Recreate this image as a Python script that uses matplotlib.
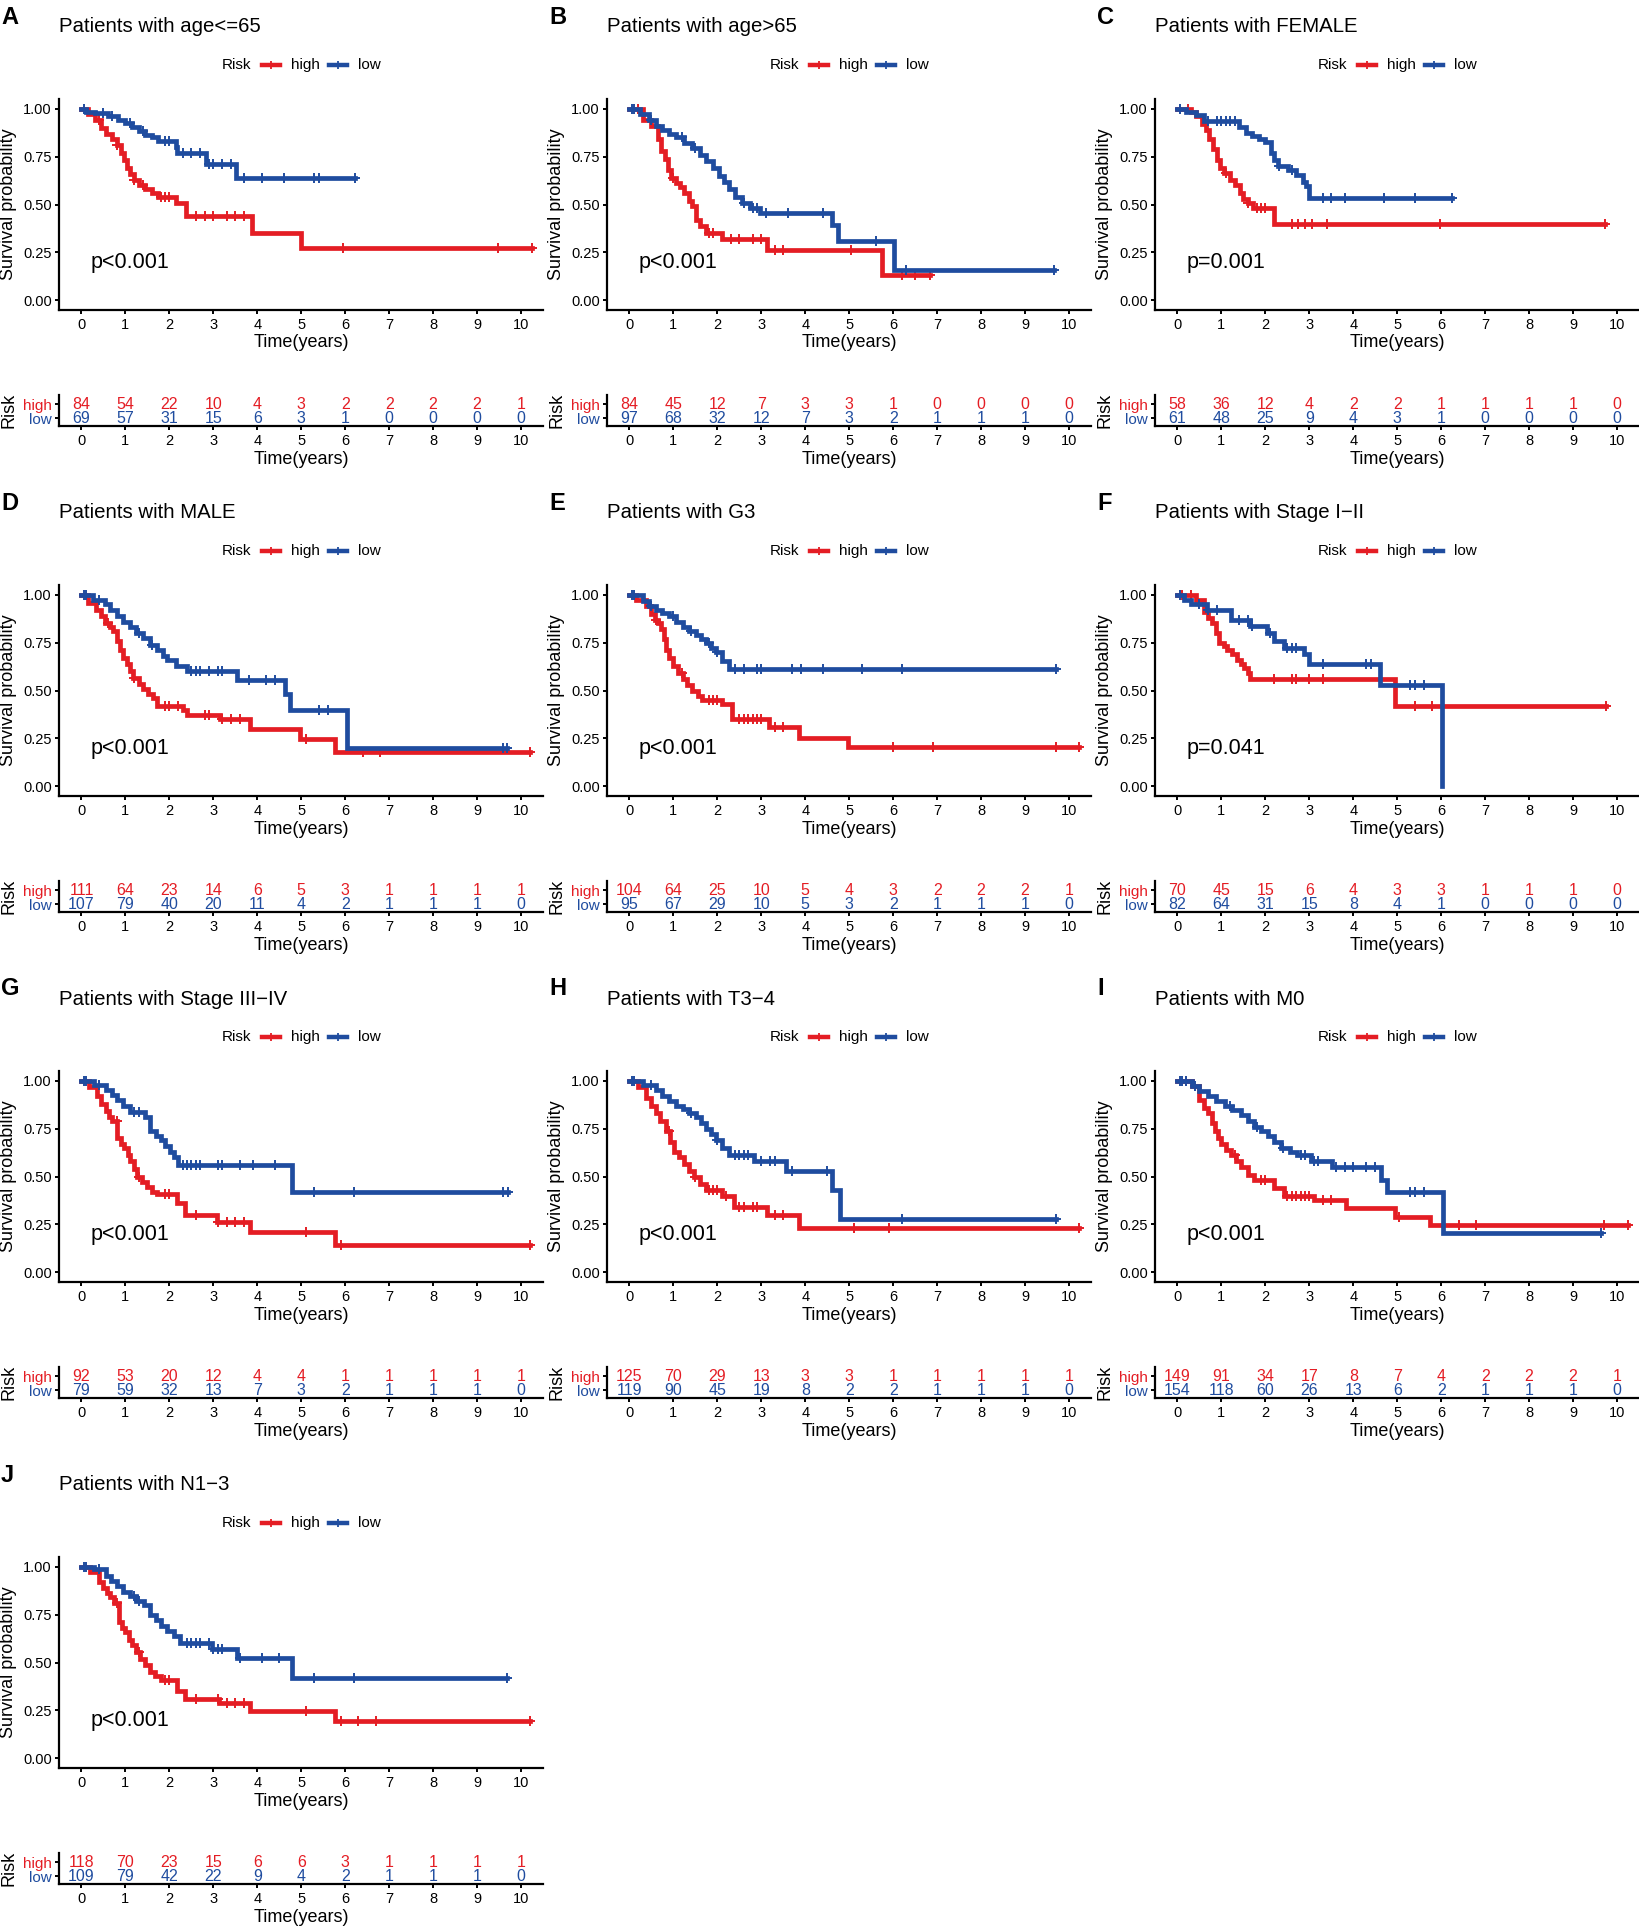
import numpy as np
import matplotlib
matplotlib.use("Agg")
import matplotlib.pyplot as plt
from matplotlib.lines import Line2D

plt.rcParams['font.family'] = ['Liberation Sans', 'DejaVu Sans']

RED = '#E41D24'
BLUE = '#1F4C9F'

LETTERS = ['A', 'B', 'C', 'D', 'E', 'F', 'G', 'H', 'I', 'J']
TITLES = ['Patients with age<=65', 'Patients with age>65', 'Patients with FEMALE',
          'Patients with MALE', 'Patients with G3', 'Patients with Stage I\u2212II',
          'Patients with Stage III\u2212IV', 'Patients with T3\u22124', 'Patients with M0',
          'Patients with N1\u22123']
PVALS = ['p<0.001', 'p<0.001', 'p=0.001', 'p<0.001', 'p<0.001', 'p=0.041',
         'p<0.001', 'p<0.001', 'p<0.001', 'p<0.001']
RISK_TIMES = list(range(11))

# ---- A: age<=65
A_HIGH_T = [0.15, 0.3, 0.45, 0.55, 0.7, 0.8, 0.9, 0.97, 1.03, 1.1, 1.2, 1.3, 1.45, 1.6, 1.75, 2.15, 2.38, 3.88, 5.0]
A_HIGH_S = [0.97, 0.94, 0.90, 0.87, 0.84, 0.81, 0.77, 0.73, 0.69, 0.66, 0.63, 0.60, 0.58, 0.56, 0.54, 0.51, 0.44, 0.353, 0.274]
A_HIGH_END = 10.24
A_HIGH_C = [0.4, 0.8, 1.2, 1.4, 1.8, 1.9, 2.0, 2.6, 2.8, 3.0, 3.3, 3.5, 3.7, 5.95, 9.47, 10.24]
A_LOW_T = [0.1, 0.3, 0.6, 0.84, 1.0, 1.15, 1.3, 1.45, 1.6, 1.73, 2.14, 2.18, 2.83, 3.52]
A_LOW_S = [0.985, 0.975, 0.96, 0.94, 0.925, 0.905, 0.885, 0.865, 0.85, 0.83, 0.80, 0.77, 0.71, 0.64]
A_LOW_END = 6.23
A_LOW_C = [0.05, 0.5, 0.7, 1.1, 1.4, 1.9, 2.0, 2.3, 2.5, 2.7, 2.9, 3.0, 3.2, 3.4, 3.7, 4.1, 4.6, 5.3, 5.4, 6.23]
A_RISK_HIGH = [84, 54, 22, 10, 4, 3, 2, 2, 2, 2, 1]
A_RISK_LOW = [69, 57, 31, 15, 6, 3, 1, 0, 0, 0, 0]

# ---- B: age>65
B_HIGH_T = [0.3, 0.49, 0.64, 0.72, 0.8, 0.87, 0.95, 1.06, 1.15, 1.25, 1.35, 1.43, 1.51, 1.6, 1.74, 2.11, 3.13, 5.74]
B_HIGH_S = [0.94, 0.91, 0.84, 0.78, 0.74, 0.68, 0.64, 0.61, 0.59, 0.56, 0.52, 0.49, 0.42, 0.39, 0.35, 0.32, 0.265, 0.13]
B_HIGH_END = 6.83
B_HIGH_C = [0.2, 1.0, 1.8, 1.9, 2.3, 2.5, 2.8, 3.0, 3.3, 3.5, 5.05, 6.2, 6.5, 6.83]
B_LOW_T = [0.23, 0.45, 0.6, 0.75, 0.9, 1.06, 1.25, 1.43, 1.6, 1.74, 1.9, 2.04, 2.15, 2.26, 2.4, 2.57, 2.75, 2.98, 4.6, 4.75, 6.02]
B_LOW_S = [0.97, 0.94, 0.91, 0.89, 0.87, 0.85, 0.82, 0.795, 0.76, 0.725, 0.69, 0.65, 0.615, 0.58, 0.54, 0.51, 0.48, 0.455, 0.395, 0.31, 0.157]
B_LOW_END = 9.66
B_LOW_C = [0.05, 0.1, 0.5, 1.2, 1.5, 2.6, 2.8, 2.9, 3.1, 3.6, 4.4, 5.6, 6.3, 9.66]
B_RISK_HIGH = [84, 45, 12, 7, 3, 3, 1, 0, 0, 0, 0]
B_RISK_LOW = [97, 68, 32, 12, 7, 3, 2, 1, 1, 1, 0]

# ---- C: female
C_HIGH_T = [0.3, 0.42, 0.55, 0.65, 0.72, 0.8, 0.9, 0.97, 1.05, 1.2, 1.32, 1.42, 1.5, 1.6, 1.72, 2.2]
C_HIGH_S = [0.985, 0.96, 0.92, 0.89, 0.84, 0.79, 0.73, 0.69, 0.665, 0.63, 0.60, 0.56, 0.53, 0.51, 0.48, 0.40]
C_HIGH_END = 9.73
C_HIGH_C = [0.25, 1.1, 1.6, 1.8, 1.9, 2.0, 2.6, 2.75, 2.9, 3.05, 3.4, 5.97, 9.73]
C_LOW_T = [0.2, 0.42, 0.6, 1.4, 1.55, 1.7, 1.85, 2.0, 2.12, 2.2, 2.28, 2.52, 2.69, 2.85, 2.93, 3.0]
C_LOW_S = [0.985, 0.965, 0.935, 0.905, 0.875, 0.855, 0.84, 0.825, 0.77, 0.73, 0.70, 0.68, 0.655, 0.62, 0.595, 0.535]
C_LOW_END = 6.25
C_LOW_C = [0.05, 0.7, 0.9, 1.0, 1.1, 1.2, 1.3, 2.3, 2.6, 3.3, 3.5, 3.8, 4.7, 5.4, 6.25]
C_RISK_HIGH = [58, 36, 12, 4, 2, 2, 1, 1, 1, 1, 0]
C_RISK_LOW = [61, 48, 25, 9, 4, 3, 1, 0, 0, 0, 0]

# ---- D: male
D_HIGH_T = [0.15, 0.34, 0.45, 0.53, 0.65, 0.72, 0.8, 0.87, 0.95, 1.03, 1.1, 1.18, 1.3, 1.41, 1.52, 1.63, 1.71, 2.32, 2.4, 3.15, 3.83, 4.97, 5.77]
D_HIGH_S = [0.957, 0.92, 0.89, 0.85, 0.83, 0.81, 0.76, 0.71, 0.67, 0.64, 0.60, 0.565, 0.535, 0.51, 0.48, 0.46, 0.42, 0.40, 0.37, 0.35, 0.30, 0.245, 0.18]
D_HIGH_END = 10.21
D_HIGH_C = [0.6, 1.2, 1.9, 2.0, 2.2, 2.8, 2.9, 3.2, 3.4, 3.6, 5.1, 6.4, 6.8, 10.21]
D_LOW_T = [0.27, 0.53, 0.65, 0.8, 0.95, 1.1, 1.25, 1.4, 1.55, 1.71, 1.85, 1.94, 2.16, 2.39, 3.53, 4.63, 4.75, 6.04]
D_LOW_S = [0.97, 0.95, 0.92, 0.89, 0.86, 0.83, 0.80, 0.775, 0.74, 0.71, 0.68, 0.66, 0.63, 0.60, 0.555, 0.48, 0.40, 0.20]
D_LOW_END = 9.68
D_LOW_C = [0.05, 0.1, 0.4, 1.3, 1.6, 2.5, 2.6, 2.7, 2.9, 3.1, 3.2, 3.8, 4.2, 4.4, 5.4, 5.6, 9.6, 9.68]
D_RISK_HIGH = [111, 64, 23, 14, 6, 5, 3, 1, 1, 1, 1]
D_RISK_LOW = [107, 79, 40, 20, 11, 4, 2, 1, 1, 1, 0]

# ---- E: G3
E_HIGH_T = [0.15, 0.38, 0.5, 0.57, 0.66, 0.72, 0.78, 0.83, 0.9, 0.98, 1.1, 1.21, 1.32, 1.43, 1.55, 1.66, 2.11, 2.34, 3.17, 3.85, 4.98]
E_HIGH_S = [0.97, 0.94, 0.90, 0.87, 0.85, 0.82, 0.77, 0.71, 0.67, 0.63, 0.59, 0.56, 0.53, 0.50, 0.47, 0.45, 0.43, 0.35, 0.31, 0.25, 0.205]
E_HIGH_END = 10.23
E_HIGH_C = [0.6, 1.2, 1.8, 1.9, 2.0, 2.5, 2.6, 2.7, 2.8, 2.9, 3.0, 3.3, 3.5, 6.0, 6.9, 9.7, 10.23]
E_LOW_T = [0.3, 0.45, 0.6, 0.75, 0.9, 1.05, 1.21, 1.35, 1.51, 1.62, 1.74, 1.85, 1.96, 2.1, 2.26]
E_LOW_S = [0.965, 0.94, 0.92, 0.905, 0.89, 0.86, 0.83, 0.81, 0.79, 0.77, 0.75, 0.72, 0.70, 0.655, 0.61]
E_LOW_END = 9.7
E_LOW_C = [0.05, 0.1, 0.5, 1.0, 1.4, 1.8, 2.0, 2.4, 2.6, 2.9, 3.0, 3.7, 3.9, 4.4, 5.3, 6.2, 9.7]
E_RISK_HIGH = [104, 64, 25, 10, 5, 4, 3, 2, 2, 2, 1]
E_RISK_LOW = [95, 67, 29, 10, 5, 3, 2, 1, 1, 1, 0]

# ---- F: stage I-II
F_HIGH_T = [0.42, 0.6, 0.7, 0.79, 0.87, 0.95, 1.05, 1.13, 1.25, 1.36, 1.45, 1.51, 1.6, 1.66, 4.95]
F_HIGH_S = [0.97, 0.91, 0.88, 0.85, 0.80, 0.75, 0.73, 0.71, 0.69, 0.66, 0.64, 0.62, 0.59, 0.56, 0.42]
F_HIGH_END = 9.76
F_HIGH_C = [0.1, 0.3, 2.2, 2.6, 2.7, 3.0, 3.3, 5.4, 5.8, 9.76]
F_LOW_T = [0.15, 0.3, 0.68, 1.21, 1.66, 2.04, 2.19, 2.42, 2.87, 2.99, 4.61, 6.01]
F_LOW_S = [0.97, 0.95, 0.92, 0.87, 0.835, 0.80, 0.76, 0.72, 0.69, 0.64, 0.53, 0.0]
F_LOW_END = 6.01
F_LOW_C = [0.05, 0.5, 0.7, 0.9, 1.4, 1.6, 1.7, 2.1, 2.5, 2.6, 2.7, 3.3, 4.3, 4.4, 5.3, 5.4, 5.6]
F_RISK_HIGH = [70, 45, 15, 6, 4, 3, 3, 1, 1, 1, 0]
F_RISK_LOW = [82, 64, 31, 15, 8, 4, 1, 0, 0, 0, 0]

# ---- G: stage III-IV
G_HIGH_T = [0.17, 0.36, 0.45, 0.55, 0.63, 0.7, 0.81, 0.9, 0.96, 1.05, 1.11, 1.2, 1.27, 1.38, 1.49, 1.6, 1.72, 2.17, 2.36, 3.08, 3.83, 5.77]
G_HIGH_S = [0.965, 0.92, 0.88, 0.84, 0.81, 0.79, 0.70, 0.67, 0.65, 0.61, 0.58, 0.54, 0.50, 0.47, 0.445, 0.42, 0.41, 0.36, 0.30, 0.26, 0.21, 0.14]
G_HIGH_END = 10.2
G_HIGH_C = [0.8, 1.3, 1.9, 2.0, 2.6, 3.1, 3.3, 3.5, 3.7, 5.1, 5.9, 10.2]
G_LOW_T = [0.28, 0.55, 0.7, 0.81, 0.95, 1.11, 1.45, 1.57, 1.7, 1.8, 1.9, 2.02, 2.1, 2.2, 4.79]
G_LOW_S = [0.98, 0.95, 0.925, 0.90, 0.87, 0.835, 0.81, 0.74, 0.71, 0.69, 0.66, 0.63, 0.60, 0.56, 0.42]
G_LOW_END = 9.71
G_LOW_C = [0.05, 0.1, 0.4, 1.2, 1.3, 2.3, 2.4, 2.5, 2.6, 2.7, 3.1, 3.2, 3.6, 3.9, 4.4, 5.3, 6.2, 9.6, 9.71]
G_RISK_HIGH = [92, 53, 20, 12, 4, 4, 1, 1, 1, 1, 1]
G_RISK_LOW = [79, 59, 32, 13, 7, 3, 2, 1, 1, 1, 0]

# ---- H: T3-4
H_HIGH_T = [0.19, 0.38, 0.5, 0.6, 0.7, 0.83, 0.92, 1.02, 1.12, 1.25, 1.36, 1.47, 1.6, 1.74, 2.11, 2.38, 3.13, 3.85]
H_HIGH_S = [0.965, 0.91, 0.87, 0.83, 0.79, 0.74, 0.68, 0.63, 0.60, 0.565, 0.53, 0.50, 0.46, 0.43, 0.40, 0.34, 0.30, 0.23]
H_HIGH_END = 10.23
H_HIGH_C = [0.9, 1.5, 1.8, 1.9, 2.0, 2.2, 2.5, 2.6, 2.8, 2.9, 3.3, 3.5, 5.1, 5.9, 10.23]
H_LOW_T = [0.3, 0.6, 0.75, 0.9, 1.05, 1.21, 1.36, 1.51, 1.62, 1.74, 1.85, 1.96, 2.1, 2.26, 2.83, 3.55, 4.6, 4.79]
H_LOW_S = [0.975, 0.95, 0.92, 0.895, 0.87, 0.85, 0.83, 0.81, 0.78, 0.75, 0.72, 0.69, 0.65, 0.61, 0.58, 0.53, 0.43, 0.28]
H_LOW_END = 9.7
H_LOW_C = [0.05, 0.1, 0.5, 1.4, 2.0, 2.4, 2.5, 2.6, 2.7, 3.0, 3.2, 3.3, 3.7, 4.5, 6.2, 9.7]
H_RISK_HIGH = [125, 70, 29, 13, 3, 3, 1, 1, 1, 1, 1]
H_RISK_LOW = [119, 90, 45, 19, 8, 2, 2, 1, 1, 1, 0]

# ---- I: M0
I_HIGH_T = [0.32, 0.5, 0.6, 0.69, 0.78, 0.85, 0.93, 1.0, 1.1, 1.22, 1.33, 1.45, 1.6, 1.75, 2.2, 2.43, 3.11, 3.83, 4.96, 5.75]
I_HIGH_S = [0.97, 0.90, 0.86, 0.83, 0.78, 0.74, 0.70, 0.67, 0.64, 0.61, 0.58, 0.55, 0.51, 0.48, 0.44, 0.40, 0.375, 0.335, 0.29, 0.245]
I_HIGH_END = 10.25
I_HIGH_C = [0.2, 1.3, 1.9, 2.0, 2.5, 2.6, 2.7, 2.8, 2.9, 3.0, 3.3, 3.5, 5.05, 6.4, 6.8, 9.7, 10.25]
I_LOW_T = [0.32, 0.5, 0.69, 0.88, 1.07, 1.25, 1.45, 1.6, 1.75, 1.9, 2.05, 2.2, 2.35, 2.55, 2.73, 3.03, 3.52, 4.62, 4.77, 6.05]
I_LOW_S = [0.97, 0.945, 0.92, 0.895, 0.87, 0.845, 0.82, 0.79, 0.76, 0.735, 0.71, 0.68, 0.65, 0.63, 0.61, 0.58, 0.55, 0.48, 0.42, 0.207]
I_LOW_END = 9.64
I_LOW_C = [0.05, 0.1, 0.2, 0.4, 1.2, 1.8, 2.4, 2.8, 2.9, 3.1, 3.2, 3.6, 3.8, 4.0, 4.3, 4.5, 5.3, 5.4, 5.6, 9.64]
I_RISK_HIGH = [149, 91, 34, 17, 8, 7, 4, 2, 2, 2, 1]
I_RISK_LOW = [154, 118, 60, 26, 13, 6, 2, 1, 1, 1, 0]

# ---- J: N1-3
J_HIGH_T = [0.2, 0.39, 0.5, 0.58, 0.66, 0.73, 0.85, 0.93, 1.0, 1.08, 1.15, 1.25, 1.34, 1.45, 1.57, 1.68, 1.8, 2.17, 2.36, 3.12, 3.84, 5.77]
J_HIGH_S = [0.97, 0.92, 0.89, 0.865, 0.84, 0.81, 0.71, 0.68, 0.66, 0.62, 0.59, 0.555, 0.52, 0.485, 0.45, 0.43, 0.41, 0.35, 0.31, 0.29, 0.245, 0.195]
J_HIGH_END = 10.2
J_HIGH_C = [0.8, 1.3, 1.9, 2.0, 2.6, 3.1, 3.3, 3.5, 3.7, 5.1, 5.9, 6.3, 6.7, 10.2]
J_LOW_T = [0.28, 0.55, 0.68, 0.81, 0.95, 1.11, 1.25, 1.42, 1.57, 1.7, 1.8, 1.95, 2.1, 2.25, 2.97, 3.54, 4.79]
J_LOW_S = [0.986, 0.95, 0.925, 0.90, 0.87, 0.845, 0.82, 0.80, 0.75, 0.72, 0.69, 0.665, 0.64, 0.60, 0.57, 0.525, 0.42]
J_LOW_END = 9.67
J_LOW_C = [0.05, 0.1, 0.4, 1.2, 1.3, 2.4, 2.5, 2.6, 2.7, 2.9, 3.0, 3.1, 3.2, 3.6, 4.1, 4.5, 5.3, 6.2, 9.67]
J_RISK_HIGH = [118, 70, 23, 15, 6, 6, 3, 1, 1, 1, 1]
J_RISK_LOW = [109, 79, 42, 22, 9, 4, 2, 1, 1, 1, 0]

HIGH = [(A_HIGH_T, A_HIGH_S, A_HIGH_END, A_HIGH_C), (B_HIGH_T, B_HIGH_S, B_HIGH_END, B_HIGH_C),
        (C_HIGH_T, C_HIGH_S, C_HIGH_END, C_HIGH_C), (D_HIGH_T, D_HIGH_S, D_HIGH_END, D_HIGH_C),
        (E_HIGH_T, E_HIGH_S, E_HIGH_END, E_HIGH_C), (F_HIGH_T, F_HIGH_S, F_HIGH_END, F_HIGH_C),
        (G_HIGH_T, G_HIGH_S, G_HIGH_END, G_HIGH_C), (H_HIGH_T, H_HIGH_S, H_HIGH_END, H_HIGH_C),
        (I_HIGH_T, I_HIGH_S, I_HIGH_END, I_HIGH_C), (J_HIGH_T, J_HIGH_S, J_HIGH_END, J_HIGH_C)]
LOW = [(A_LOW_T, A_LOW_S, A_LOW_END, A_LOW_C), (B_LOW_T, B_LOW_S, B_LOW_END, B_LOW_C),
       (C_LOW_T, C_LOW_S, C_LOW_END, C_LOW_C), (D_LOW_T, D_LOW_S, D_LOW_END, D_LOW_C),
       (E_LOW_T, E_LOW_S, E_LOW_END, E_LOW_C), (F_LOW_T, F_LOW_S, F_LOW_END, F_LOW_C),
       (G_LOW_T, G_LOW_S, G_LOW_END, G_LOW_C), (H_LOW_T, H_LOW_S, H_LOW_END, H_LOW_C),
       (I_LOW_T, I_LOW_S, I_LOW_END, I_LOW_C), (J_LOW_T, J_LOW_S, J_LOW_END, J_LOW_C)]
RISK_HIGH = [A_RISK_HIGH, B_RISK_HIGH, C_RISK_HIGH, D_RISK_HIGH, E_RISK_HIGH,
             F_RISK_HIGH, G_RISK_HIGH, H_RISK_HIGH, I_RISK_HIGH, J_RISK_HIGH]
RISK_LOW = [A_RISK_LOW, B_RISK_LOW, C_RISK_LOW, D_RISK_LOW, E_RISK_LOW,
            F_RISK_LOW, G_RISK_LOW, H_RISK_LOW, I_RISK_LOW, J_RISK_LOW]

W, H = 1640, 1928
fig = plt.figure(figsize=(W / 100, H / 100), dpi=100)


def rect(x, y, w, h):
    return [x / W, 1 - (y + h) / H, w / W, h / H]


def fx(x):
    return x / W


def fy(y):
    return 1 - y / H


def style(ax):
    for s in ['top', 'right']:
        ax.spines[s].set_visible(False)
    for s in ['left', 'bottom']:
        ax.spines[s].set_linewidth(1.6)
    ax.tick_params(width=1.4, length=3, labelsize=10.5, pad=2.5, colors='black')
    ax.set_xlim(-0.5, 10.5)
    ax.set_xticks(RISK_TIMES)


def km(ax, curve, color):
    t, s, end, cens = curve
    x = np.array([0] + t + [end])
    y = np.array([1.0] + s + [s[-1]])
    ax.plot(x, y, drawstyle='steps-post', color=color, lw=3.4, solid_joinstyle='miter')
    c = np.array(cens)
    idx = np.searchsorted(x, c, side='right') - 1
    ax.plot(c, y[idx], ls='none', marker='+', ms=6.5, mew=1.4, color=color)


for i in range(10):
    ox = (i % 3) * 548
    oy = (i // 3) * 486

    fig.text(fx(ox + 1), fy(oy + 17), LETTERS[i], fontsize=17, fontweight='bold',
             ha='left', va='center')
    fig.text(fx(ox + 59), fy(oy + 27), TITLES[i], fontsize=14.7, ha='left', va='center')

    # legend
    ly = fy(oy + 65)
    fig.text(fx(ox + 222), ly, 'Risk', fontsize=11, ha='left', va='center')
    for x0, col, lab in [(262, RED, 'high'), (329, BLUE, 'low')]:
        fig.add_artist(Line2D([fx(ox + x0), fx(ox + x0 + 18)], [ly, ly], color=col, lw=3.2,
                              transform=fig.transFigure))
        fig.add_artist(Line2D([fx(ox + x0 + 9)], [ly], color=col, marker='+', ms=6, mew=1.3,
                              transform=fig.transFigure))
        fig.text(fx(ox + x0 + 29), ly, lab, fontsize=11, ha='left', va='center')

    # survival curves
    ax = fig.add_axes(rect(ox + 59.5, oy + 99.1, 483.5, 210.8))
    style(ax)
    km(ax, HIGH[i], RED)
    km(ax, LOW[i], BLUE)
    ax.set_ylim(-0.05, 1.05)
    ax.set_yticks([0, 0.25, 0.5, 0.75, 1.0])
    ax.set_yticklabels(['0.00', '0.25', '0.50', '0.75', '1.00'])
    ax.text(0.2, 0.195, PVALS[i], fontsize=15.5, ha='left', va='center')
    ax.set_xlabel('Time(years)', fontsize=13, va='center')
    ax.xaxis.set_label_coords(0.5, -(343 - 309.9) / 210.8)
    ax.set_ylabel('Survival probability', fontsize=13, va='center', ha='center')
    ax.yaxis.set_label_coords((9 - 59.5) / 483.5, 0.5)

    # risk table
    axr = fig.add_axes(rect(ox + 59.5, oy + 395, 483.5, 31))
    style(axr)
    axr.set_ylim(0.45, 2.65)
    for t, nh, nl in zip(RISK_TIMES, RISK_HIGH[i], RISK_LOW[i]):
        axr.text(t, 2, str(nh), color=RED, fontsize=11.5, ha='center', va='center')
        axr.text(t, 1, str(nl), color=BLUE, fontsize=11.5, ha='center', va='center')
    axr.set_yticks([1, 2])
    axr.set_yticklabels(['low', 'high'], fontsize=11)
    axr.get_yticklabels()[0].set_color(BLUE)
    axr.get_yticklabels()[1].set_color(RED)
    axr.set_xlabel('Time(years)', fontsize=13, va='center')
    axr.xaxis.set_label_coords(0.5, -(459 - 426) / 31)
    axr.set_ylabel('Risk', fontsize=13, va='center', ha='center')
    axr.yaxis.set_label_coords((9 - 59.5) / 483.5, 0.5)

fig.savefig('out.png', dpi=100)
